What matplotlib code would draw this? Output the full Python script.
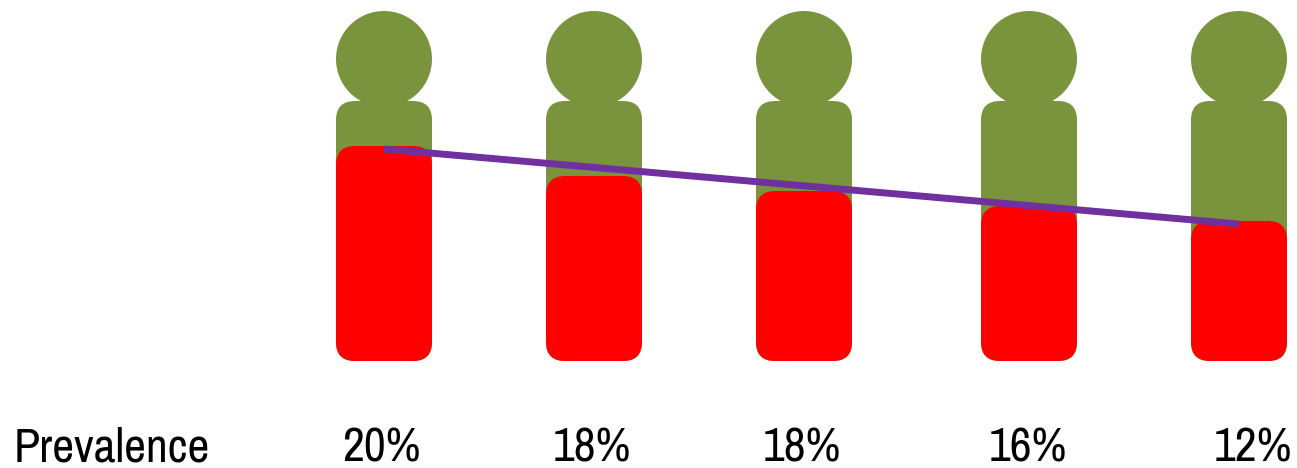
import matplotlib
matplotlib.use("Agg")
import matplotlib.pyplot as plt
from matplotlib.patches import Circle, FancyBboxPatch

# figure is drawn on a pixel scale: y is height above the feet of the figures
people_x = [384, 594, 804, 1029, 1239]
label_x = [381, 592, 802, 1028, 1253]
prevalence = ["20%", "18%", "18%", "16%", "12%"]
red_heights = [215, 185, 170, 155, 140]
trend_heights = [212, 137]
trend_x = [384, 1239]

W, H = 1297, 468
BASE = 361
BODY_W = 96
BODY_H = 260
HEAD_R = 48
HEAD_Y = 302
CORNER = 19
GREEN = "#7a943d"
RED = "#ff0000"
PURPLE = "#7030a0"

plt.rcParams["font.family"] = ["Archivo Narrow", "Liberation Sans"]

fig = plt.figure(figsize=(W / 100, H / 100), dpi=100)
ax = fig.add_axes([0, 0, 1, 1])
ax.set_xlim(0, W)
ax.set_ylim(BASE - H, BASE)
ax.axis("off")


def rounded(x, height, color, zorder):
    # body and red fill share the same rounded shape
    box = FancyBboxPatch(
        (x - BODY_W / 2 + CORNER, CORNER),
        BODY_W - 2 * CORNER,
        height - 2 * CORNER,
        boxstyle=f"round,pad={CORNER},rounding_size={CORNER}",
        fc=color,
        ec="none",
        zorder=zorder,
    )
    ax.add_patch(box)


for x, red_h in zip(people_x, red_heights):
    ax.add_patch(Circle((x, HEAD_Y), HEAD_R, fc=GREEN, ec="none", zorder=1))
    rounded(x, BODY_H, GREEN, 1)
    rounded(x, red_h, RED, 2)

for x, label in zip(label_x, prevalence):
    ax.text(x, -100, label, ha="center", va="baseline", fontsize=34.5, color="black")

ax.text(14, -100, "Prevalence", ha="left", va="baseline", fontsize=34.5, color="black")

ax.plot(trend_x, trend_heights, color=PURPLE, lw=5, solid_capstyle="butt", zorder=3)

fig.savefig("out.png", dpi=100)
